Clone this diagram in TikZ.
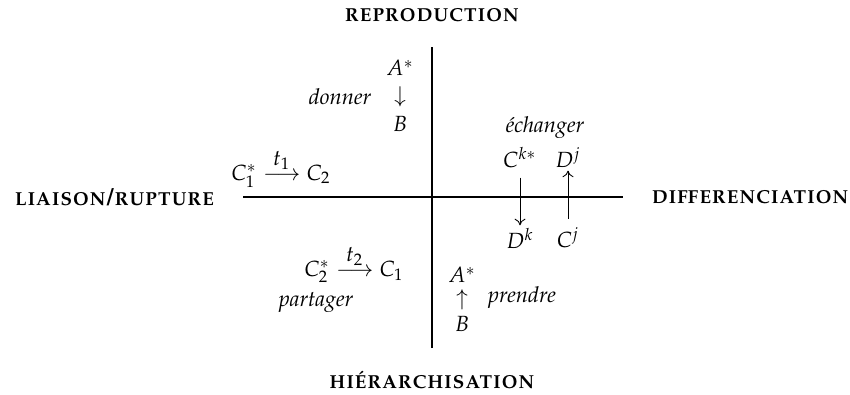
\documentclass[tikz,border=0pt]{standalone}
\usepackage[T1]{fontenc}
\usepackage{mathpazo}
\usepackage{amsmath}
\usepackage{tikz}
\usetikzlibrary{arrows.meta, positioning, calc}
\tikzset{
  axis/.style={line width=1.2pt, black},
  polelabel/.style={font=\fontsize{10.7}{12}\selectfont\bfseries\scshape},
  verb/.style={font=\itshape},
  term/.style={inner sep=1pt},
  flow/.style={-{To[length=3pt,width=5pt]}, thin},
}

\begin{document}
\begin{tikzpicture}[x=0.16mm, y=0.16mm]
  \useasboundingbox (0,0) rectangle (850,394);

  % axes
  \coordinate (west) at (243,197);
  \coordinate (east) at (623,197);
  \coordinate (north) at (432,347);
  \coordinate (south) at (432,46);
  \draw[axis] (west) -- (east);
  \draw[axis] (south) -- (north);

  % poles
  \node[polelabel] (repro) at (432,379) {reproduction};
  \node[polelabel] (hier) at (432,14) {hi\'erarchisation};
  \node[polelabel, left=0.45cm of west, inner sep=0pt] (liaison) {liaison/rupture};
  \node[polelabel, right=0.45cm of east, inner sep=0pt] (diff) {differenciation};

  % donner
  \node[term] (donA) at (400,326) {$A^{*}$};
  \node[term] (donarr) at (400,297) {$\downarrow$};
  \node[term] (donB) at (400,270) {$B$};
  \node[verb] (donner) at (340,297) {donner};

  % echanger
  \node[verb] (echanger) at (545,266) {\'echanger};
  \node[term] (Ck) at (520,236) {$C^{k*}$};
  \node[term] (Dj) at (568,236) {$D^{j}$};
  \node[term] (Dk) at (520,156) {$D^{k}$};
  \node[term] (Cj) at (568,156) {$C^{j}$};
  \draw[flow] (Ck.south) ++(0,-3pt) coordinate (ckout) -- (ckout |- Dk.north);
  \draw[flow] (Cj.north) ++(0,3pt) coordinate (cjout) -- (cjout |- Dj.south);

  % liaison / rupture
  \node[term, inner sep=0pt] (tone) at (281,226) {$C_1^{*} \stackrel{\textstyle t_1}{\longrightarrow} C_2$};
  \node[term, inner sep=0pt] (ttwo) at (354,130) {$C_2^{*} \stackrel{\textstyle t_2}{\longrightarrow} C_1$};
  \node[verb, inner sep=0pt] (partager) at (316,92) {partager};

  % prendre
  \node[term] (preA) at (462,119) {$A^{*}$};
  \node[term] (prearr) at (462,94) {$\uparrow$};
  \node[term] (preB) at (462,70) {$B$};
  \node[verb] (prendre) at (522,96) {prendre};
\end{tikzpicture}
\end{document}
